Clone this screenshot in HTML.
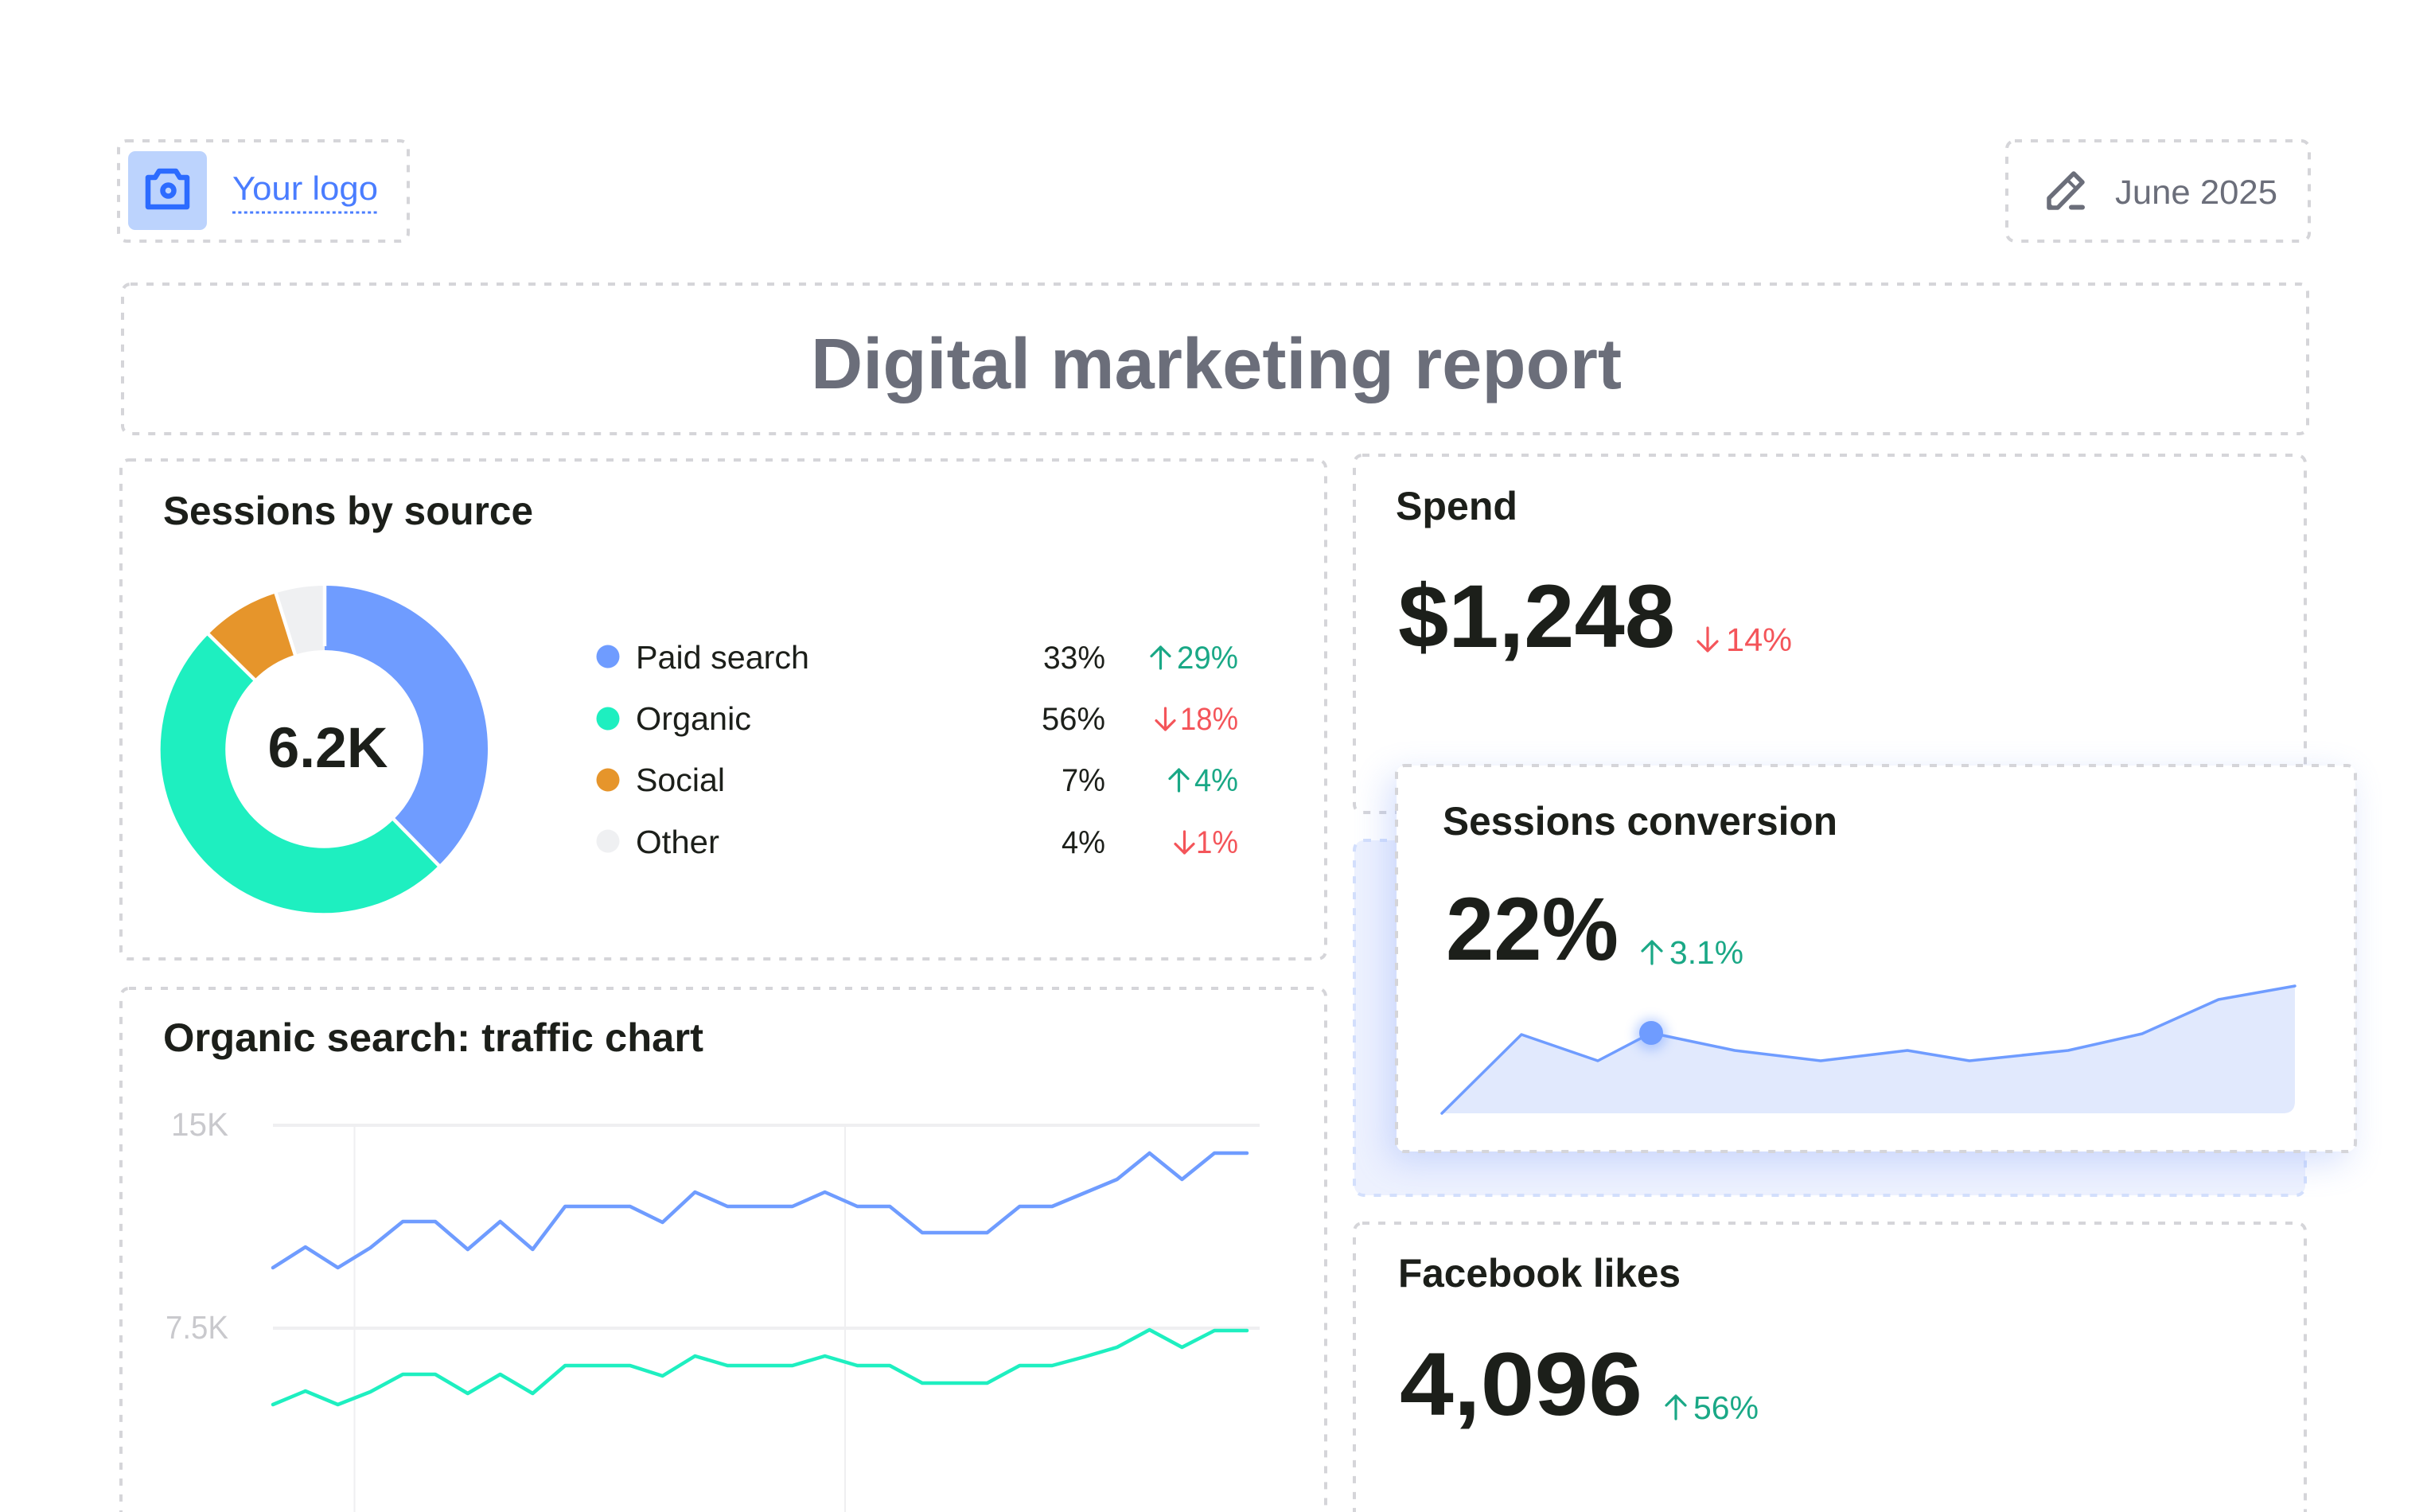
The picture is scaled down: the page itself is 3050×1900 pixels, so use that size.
<!DOCTYPE html>
<html>
<head>
<meta charset="utf-8">
<style>
  html,body{margin:0;padding:0;background:#ffffff;}
  body{width:3050px;height:1900px;overflow:hidden;}
  svg{display:block;}
  text{font-family:"Liberation Sans",Arial,sans-serif;}
</style>
</head>
<body>
<svg width="3050" height="1900" viewBox="0 0 3050 1900" xmlns="http://www.w3.org/2000/svg">
  <defs>
    <filter id="sh" x="-20%" y="-30%" width="140%" height="160%">
      <feGaussianBlur stdDeviation="22"/>
    </filter>
    <filter id="dotglow" x="-100%" y="-100%" width="300%" height="300%">
      <feGaussianBlur stdDeviation="7"/>
    </filter>
  </defs>

  <rect x="0" y="0" width="3050" height="1900" fill="#ffffff"/>

  <!-- ===== Logo box ===== -->
  <rect x="149" y="177" width="364" height="126" rx="10" fill="#fff" stroke="#d5d5d9" stroke-width="4" stroke-dasharray="9 11"/>
  <rect x="161" y="190" width="99" height="99" rx="9" fill="#bcd3fd"/>
  <path d="M186,223 h9 l5,-8 h21 l5,8 h9 v37 h-49 z" fill="none" stroke="#2c6bff" stroke-width="6.5" stroke-linejoin="round"/>
  <circle cx="211.5" cy="239.5" r="7" fill="none" stroke="#2c6bff" stroke-width="6.5"/>
  <text x="292" y="251" font-size="42" fill="#4a7dff" textLength="183" lengthAdjust="spacingAndGlyphs">Your logo</text>
  <line x1="292" y1="267" x2="476" y2="267" stroke="#4a7dff" stroke-width="3" stroke-dasharray="4 3.4"/>

  <!-- ===== Date box ===== -->
  <rect x="2522" y="177" width="380" height="126" rx="10" fill="#fff" stroke="#d5d5d9" stroke-width="4" stroke-dasharray="9 11"/>
  <path d="M2575,261 L2575,249 L2606,218 L2617,229 L2586,261 Z" fill="none" stroke="#6b6e7a" stroke-width="5.5" stroke-linejoin="round"/>
  <line x1="2598" y1="226" x2="2609" y2="237" stroke="#6b6e7a" stroke-width="4"/>
  <path d="M2573,252 L2573,263 L2584,263 Z" fill="#6b6e7a"/>
  <line x1="2603" y1="260.5" x2="2617" y2="260.5" stroke="#6b6e7a" stroke-width="6" stroke-linecap="round"/>
  <text x="2658" y="256" font-size="43" fill="#6b6e7a" textLength="204" lengthAdjust="spacingAndGlyphs">June 2025</text>

  <!-- ===== Title box ===== -->
  <rect x="154" y="357" width="2746" height="188" rx="10" fill="#fff" stroke="#d5d5d9" stroke-width="4" stroke-dasharray="9 11"/>
  <text x="1019" y="488" font-size="90" font-weight="bold" fill="#6b6e7a" textLength="1019" lengthAdjust="spacingAndGlyphs">Digital marketing report</text>

  <!-- ===== Sessions by source card ===== -->
  <rect x="152" y="578" width="1514" height="627" rx="10" fill="#fff" stroke="#d5d5d9" stroke-width="4" stroke-dasharray="9 11"/>
  <text x="205" y="659" font-size="50" font-weight="bold" fill="#1c1f1a" textLength="465" lengthAdjust="spacingAndGlyphs">Sessions by source</text>

  <!-- donut -->
  <path d="M408,736 A205,205 0 0 1 551.4,1087.5 L494.8,1029.6 A124,124 0 0 0 408,817 Z" fill="#6f9cff"/>
  <path d="M551.4,1087.5 A205,205 0 0 1 262.0,797.0 L319.7,853.9 A124,124 0 0 0 494.8,1029.6 Z" fill="#1eefc0"/>
  <path d="M262.0,797.0 A205,205 0 0 1 346.7,745.4 L370.9,822.7 A124,124 0 0 0 319.7,853.9 Z" fill="#e6952b"/>
  <path d="M346.7,745.4 A205,205 0 0 1 408,736 L408,817 A124,124 0 0 0 370.9,822.7 Z" fill="#eff0f2"/>
  <g stroke="#ffffff" stroke-width="4.5">
    <line x1="408" y1="812" x2="408" y2="730"/>
    <line x1="491.3" y1="1026" x2="555.6" y2="1091.8"/>
    <line x1="323.2" y1="857.3" x2="257.7" y2="792.8"/>
    <line x1="372.4" y1="827.5" x2="344.9" y2="739.7"/>
  </g>
  <text x="412" y="964" font-size="71" font-weight="bold" fill="#1c1f1a" text-anchor="middle" textLength="151" lengthAdjust="spacingAndGlyphs">6.2K</text>

  <!-- legend -->
  <circle cx="764" cy="825" r="14.5" fill="#6f9cff"/>
  <circle cx="764" cy="903" r="14.5" fill="#1eefc0"/>
  <circle cx="764" cy="980" r="14.5" fill="#e6952b"/>
  <circle cx="764" cy="1057" r="14.5" fill="#eff0f2"/>
  <g font-size="41" fill="#1c1f1a">
    <text x="799" y="840" textLength="218" lengthAdjust="spacingAndGlyphs">Paid search</text>
    <text x="799" y="917" textLength="145" lengthAdjust="spacingAndGlyphs">Organic</text>
    <text x="799" y="994" textLength="112" lengthAdjust="spacingAndGlyphs">Social</text>
    <text x="799" y="1072" textLength="105" lengthAdjust="spacingAndGlyphs">Other</text>
  </g>
  <g font-size="40" fill="#1c1f1a">
    <text x="1311" y="840" textLength="78" lengthAdjust="spacingAndGlyphs">33%</text>
    <text x="1309" y="917" textLength="80" lengthAdjust="spacingAndGlyphs">56%</text>
    <text x="1334" y="994" textLength="55" lengthAdjust="spacingAndGlyphs">7%</text>
    <text x="1334" y="1072" textLength="55" lengthAdjust="spacingAndGlyphs">4%</text>
  </g>
  <!-- change column -->
  <g font-size="40">
    <text x="1479" y="840" fill="#1aa886" textLength="77" lengthAdjust="spacingAndGlyphs">29%</text>
    <text x="1483" y="917" fill="#f4555a" textLength="73" lengthAdjust="spacingAndGlyphs">18%</text>
    <text x="1501" y="994" fill="#1aa886" textLength="55" lengthAdjust="spacingAndGlyphs">4%</text>
    <text x="1503" y="1072" fill="#f4555a" textLength="53" lengthAdjust="spacingAndGlyphs">1%</text>
  </g>
  <g fill="none" stroke-width="3.2" stroke-linecap="round" stroke-linejoin="round">
    <!-- up 29 -->
    <path d="M1458.5,840 V813 M1447,824.5 L1458.5,813 L1470,824.5" stroke="#1aa886"/>
    <!-- down 18 -->
    <path d="M1464.5,890 V917 M1453,905.5 L1464.5,917 L1476,905.5" stroke="#f4555a"/>
    <!-- up 4 -->
    <path d="M1481.5,994 V967 M1470,978.5 L1481.5,967 L1493,978.5" stroke="#1aa886"/>
    <!-- down 1 -->
    <path d="M1488.5,1045 V1072 M1477,1060.5 L1488.5,1072 L1500,1060.5" stroke="#f4555a"/>
  </g>

  <!-- ===== Organic search card ===== -->
  <rect x="152" y="1242" width="1514" height="720" rx="10" fill="#fff" stroke="#d5d5d9" stroke-width="4" stroke-dasharray="9 11"/>
  <text x="205" y="1321" font-size="50" font-weight="bold" fill="#1c1f1a" textLength="679" lengthAdjust="spacingAndGlyphs">Organic search: traffic chart</text>

  <!-- grid -->
  <g stroke="#efeff1">
    <line x1="445.5" y1="1414" x2="445.5" y2="1900" stroke-width="2"/>
    <line x1="1062" y1="1414" x2="1062" y2="1900" stroke-width="2"/>
    <line x1="343" y1="1414" x2="1583" y2="1414" stroke-width="4"/>
    <line x1="343" y1="1669" x2="1583" y2="1669" stroke-width="4"/>
  </g>
  <text x="215" y="1427" font-size="41" fill="#c9c9cd" textLength="72" lengthAdjust="spacingAndGlyphs">15K</text>
  <text x="208" y="1682" font-size="41" fill="#c9c9cd" textLength="79" lengthAdjust="spacingAndGlyphs">7.5K</text>

  <polyline fill="none" stroke="#6f9cff" stroke-width="4.5" stroke-linejoin="round" stroke-linecap="round"
    points="343,1593 383.8,1567 424.6,1593 465.4,1568 506.2,1535 547,1535 587.8,1570 628.6,1535 669.4,1570 710.2,1516 751,1516 791.8,1516 832.6,1536 873.4,1498 914.2,1516 955,1516 995.8,1516 1036.6,1498 1077.4,1516 1118.2,1516 1159,1549 1199.8,1549 1240.6,1549 1281.4,1516 1322.2,1516 1363,1499 1403.8,1482 1444.6,1449 1485.4,1482 1526.2,1449 1567,1449"/>
  <polyline fill="none" stroke="#1eefc0" stroke-width="4.5" stroke-linejoin="round" stroke-linecap="round"
    points="343,1765 383.8,1748 424.6,1765 465.4,1749 506.2,1727 547,1727 587.8,1751 628.6,1727 669.4,1751 710.2,1716 751,1716 791.8,1716 832.6,1729 873.4,1704 914.2,1716 955,1716 995.8,1716 1036.6,1704 1077.4,1716 1118.2,1716 1159,1738 1199.8,1738 1240.6,1738 1281.4,1716 1322.2,1716 1363,1705 1403.8,1693 1444.6,1671 1485.4,1693 1526.2,1672 1567,1672"/>

  <!-- ===== Spend card ===== -->
  <rect x="1702" y="572" width="1195" height="449" rx="10" fill="#fff" stroke="#d5d5d9" stroke-width="4" stroke-dasharray="9 11"/>
  <text x="1754" y="653" font-size="50" font-weight="bold" fill="#1c1f1a" textLength="153" lengthAdjust="spacingAndGlyphs">Spend</text>
  <text x="1757" y="813" font-size="112" font-weight="bold" fill="#1c1f1a" textLength="348" lengthAdjust="spacingAndGlyphs">$1,248</text>
  <path d="M2146,789 V818 M2134,806 L2146,818 L2158,806" fill="none" stroke="#f4555a" stroke-width="3.2" stroke-linecap="round" stroke-linejoin="round"/>
  <text x="2169" y="818" font-size="41" fill="#f4555a" textLength="83" lengthAdjust="spacingAndGlyphs">14%</text>

  <!-- ===== Facebook likes card ===== -->
  <rect x="1702" y="1537" width="1195" height="420" rx="10" fill="#fff" stroke="#d5d5d9" stroke-width="4" stroke-dasharray="9 11"/>
  <text x="1757" y="1617" font-size="50" font-weight="bold" fill="#1c1f1a" textLength="355" lengthAdjust="spacingAndGlyphs">Facebook likes</text>
  <text x="1759" y="1778" font-size="112" font-weight="bold" fill="#1c1f1a" textLength="305" lengthAdjust="spacingAndGlyphs">4,096</text>
  <path d="M2106,1783 V1754 M2094,1766 L2106,1754 L2118,1766" fill="none" stroke="#1aa886" stroke-width="3.2" stroke-linecap="round" stroke-linejoin="round"/>
  <text x="2128" y="1783" font-size="41" fill="#1aa886" textLength="82" lengthAdjust="spacingAndGlyphs">56%</text>

  <!-- ===== Placeholder (drag target) ===== -->
  <rect x="1702" y="1056" width="1195" height="446" rx="12" fill="#edf1fe" stroke="#d3dffc" stroke-width="4" stroke-dasharray="9 11"/>

  <!-- shadow of floating card -->
  <rect x="1745" y="975" width="1205" height="485" rx="12" fill="#7d9cf8" opacity="0.32" filter="url(#sh)"/>

  <!-- ===== Sessions conversion card ===== -->
  <rect x="1755" y="962" width="1205" height="485" rx="10" fill="#fff" stroke="#d5d5d9" stroke-width="4" stroke-dasharray="9 11"/>
  <text x="1813" y="1049" font-size="50" font-weight="bold" fill="#1c1f1a" textLength="496" lengthAdjust="spacingAndGlyphs">Sessions conversion</text>
  <text x="1817" y="1206" font-size="112" font-weight="bold" fill="#1c1f1a" textLength="217" lengthAdjust="spacingAndGlyphs">22%</text>
  <path d="M2076,1211 V1183 M2064,1195 L2076,1183 L2088,1195" fill="none" stroke="#1aa886" stroke-width="3.2" stroke-linecap="round" stroke-linejoin="round"/>
  <text x="2098" y="1211" font-size="41" fill="#1aa886" textLength="93" lengthAdjust="spacingAndGlyphs">3.1%</text>

  <!-- sparkline -->
  <path d="M1812,1399 L1912,1300 L2008,1333 L2075,1298 L2180,1320 L2288,1333 L2397,1320 L2475,1333 L2599,1320 L2692,1299 L2788,1256 L2884,1239 L2884,1384 Q2884,1399 2869,1399 Z" fill="#e1e9fd"/>
  <polyline fill="none" stroke="#6f9cff" stroke-width="3.5" stroke-linejoin="round" stroke-linecap="round"
    points="1812,1399 1912,1300 2008,1333 2075,1298 2180,1320 2288,1333 2397,1320 2475,1333 2599,1320 2692,1299 2788,1256 2884,1239"/>
  <circle cx="2075" cy="1300" r="20" fill="#6f9cff" opacity="0.45" filter="url(#dotglow)"/>
  <circle cx="2075" cy="1298" r="15" fill="#6f9cff"/>
</svg>
</body>
</html>
